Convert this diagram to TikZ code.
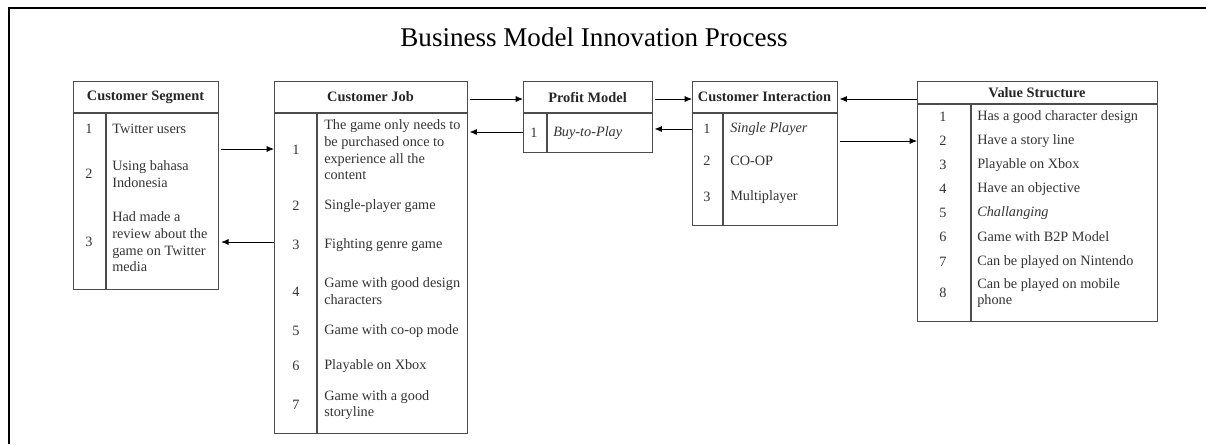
\documentclass[tikz,border=0pt]{standalone}
\usepackage{fontspec}
\setmainfont{Liberation Serif}
\usepackage{tikz}
\usetikzlibrary{positioning,calc,arrows.meta}
\newlength{\px}
\setlength{\px}{0.75pt}

\begin{document}
\begin{tikzpicture}[x=0.75pt,y=-0.75pt,
    >={Latex[length=5.5pt,width=4.5pt]},
    tbl/.style={draw=black!70,line width=0.9pt,anchor=north west,inner sep=0pt},
    rule/.style={draw=black!70,line width=0.9pt},
    head/.style={font=\fontsize{10.8}{13}\selectfont\bfseries,text=black!85},
    num/.style={font=\fontsize{10.7}{12.5}\selectfont,text=black!80,inner sep=0pt},
    item/.style={font=\fontsize{10.7}{12.5}\selectfont,text=black!80,anchor=west,align=left,inner sep=0pt},
    link/.style={->,line width=0.6pt}]
    \useasboundingbox (0,0) rectangle (1206,444);

    % Frame
    \draw[line width=1.2pt] (9,444) -- (9,8) -- (1206,8);

    % Title
    \node[font=\fontsize{20.3}{24}\selectfont] (title) at (594,37) {Business Model Innovation Process};

    % Customer Segment
    \node[tbl,minimum width=145*\px,minimum height=208*\px] (seg) at (73,81) {};
    \draw[rule] (seg.west |- 0,113) -- (seg.east |- 0,113);
    \draw[rule] (106,113) -- (106,289);
    \node[head] (segT) at (145.5,97) {Customer Segment};
    \node[num] (seg1n) at (89,129) {1};
    \node[item] (seg1) at (112,129) {Twitter users};
    \node[num] (seg2n) at (89,174) {2};
    \node[item] (seg2) at (112,174) {Using bahasa\\Indonesia};
    \node[num] (seg3n) at (89,242) {3};
    \node[item] (seg3) at (112,242) {Had made a\\review about the\\game on Twitter\\media};

    % Customer Job
    \node[tbl,minimum width=193*\px,minimum height=352*\px] (job) at (274,81) {};
    \draw[rule] (job.west |- 0,113) -- (job.east |- 0,113);
    \draw[rule] (317,113) -- (317,433);
    \node[head] (jobT) at (370.5,97) {Customer Job};
    \node[num] (job1n) at (296,150) {1};
    \node[item] (job1) at (324,150) {The game only needs to\\be purchased once to\\experience all the\\content};
    \node[num] (job2n) at (296,206) {2};
    \node[item] (job2) at (324,206) {Single-player game};
    \node[num] (job3n) at (296,245) {3};
    \node[item] (job3) at (324,245) {Fighting genre game};
    \node[num] (job4n) at (296,292) {4};
    \node[item] (job4) at (324,291) {Game with good design\\characters};
    \node[num] (job5n) at (296,331) {5};
    \node[item] (job5) at (324,331) {Game with co-op mode};
    \node[num] (job6n) at (296,366) {6};
    \node[item] (job6) at (324,366) {Playable on Xbox};
    \node[num] (job7n) at (296,405) {7};
    \node[item] (job7) at (324,405) {Game with a good\\storyline};

    % Profit Model
    \node[tbl,minimum width=129*\px,minimum height=71*\px] (pm) at (523,81) {};
    \draw[rule] (pm.west |- 0,113) -- (pm.east |- 0,113);
    \draw[rule] (547,113) -- (547,152);
    \node[head] (pmT) at (587.5,97) {Profit Model};
    \node[num] (pm1n) at (534,133) {1};
    \node[item] (pm1) at (553,133) {\textit{Buy-to-Play}};

    % Customer Interaction
    \node[tbl,minimum width=145*\px,minimum height=144*\px] (ci) at (692,81) {};
    \draw[rule] (ci.west |- 0,113) -- (ci.east |- 0,113);
    \draw[rule] (723,113) -- (723,225);
    \node[head] (ciT) at (764.5,97) {Customer Interaction};
    \node[num] (ci1n) at (707,129) {1};
    \node[item] (ci1) at (730,129) {\textit{Single Player}};
    \node[num] (ci2n) at (707,161) {2};
    \node[item] (ci2) at (730,161) {CO-OP};
    \node[num] (ci3n) at (707,197) {3};
    \node[item] (ci3) at (730,197) {Multiplayer};

    % Value Structure
    \node[tbl,minimum width=240*\px,minimum height=240*\px] (vs) at (917,81) {};
    \draw[rule] (vs.west |- 0,104) -- (vs.east |- 0,104);
    \draw[rule] (971,104) -- (971,321);
    \node[head] (vsT) at (1037,93) {Value Structure};
    \node[num] (vs1n) at (943,117) {1};
    \node[item] (vs1) at (977,117) {Has a good character design};
    \node[num] (vs2n) at (943,141) {2};
    \node[item] (vs2) at (977,141) {Have a story line};
    \node[num] (vs3n) at (943,165) {3};
    \node[item] (vs3) at (977,165) {Playable on Xbox};
    \node[num] (vs4n) at (943,189) {4};
    \node[item] (vs4) at (977,189) {Have an objective};
    \node[num] (vs5n) at (943,213) {5};
    \node[item] (vs5) at (977,213) {\textit{Challanging}};
    \node[num] (vs6n) at (943,237) {6};
    \node[item] (vs6) at (977,237) {Game with B2P Model};
    \node[num] (vs7n) at (943,262) {7};
    \node[item] (vs7) at (977,262) {Can be played on Nintendo};
    \node[num] (vs8n) at (943,293) {8};
    \node[item] (vs8) at (977,293) {Can be played on mobile\\phone};

    % Arrows
    \draw[link] ([xshift=1.5pt]seg.east |- 0,149) -- (job.west |- 0,149);
    \draw[link] (job.west |- 0,242) -- ([xshift=1.5pt]seg.east |- 0,242);
    \draw[link] ([xshift=1pt]job.east |- 0,99) -- (pm.west |- 0,99);
    \draw[link] (pm.west |- 0,132) -- ([xshift=1pt]job.east |- 0,132);
    \draw[link] ([xshift=1pt]pm.east |- 0,99) -- (ci.west |- 0,99);
    \draw[link] (ci.west |- 0,129) -- ([xshift=1pt]pm.east |- 0,129);
    \draw[link] (vs.west |- 0,99) -- ([xshift=1pt]ci.east |- 0,99);
    \draw[link] ([xshift=1pt]ci.east |- 0,141) -- (vs.west |- 0,141);
\end{tikzpicture}
\end{document}
